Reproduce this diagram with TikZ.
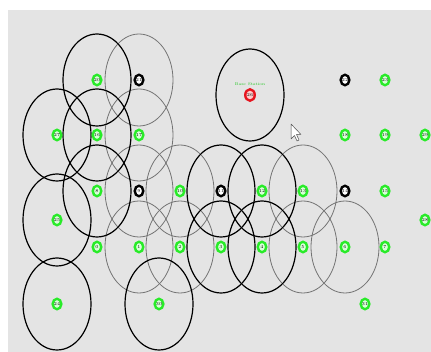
\documentclass[tikz,border=0pt]{standalone}
\usetikzlibrary{shapes.geometric}
\definecolor{bg}{RGB}{228,228,228}
\definecolor{ngreen}{RGB}{40,235,40}
\definecolor{nred}{RGB}{230,20,30}
\begin{document}
\begin{tikzpicture}[x=1pt,y=-1pt,
  rng/.style={draw=black,line width=1.2pt},
  rngg/.style={draw=black!55,line width=0.8pt},
  nodebase/.style={ellipse,line width=2.4pt,minimum width=8.5pt,minimum height=10.5pt,inner sep=0pt,font=\fontsize{4.5}{4.5}\selectfont},
  gnode/.style={nodebase,draw=ngreen,fill=green!15!white},
  bnode/.style={nodebase,draw=black,fill=white},
  rnode/.style={nodebase,draw=nred,fill=red!20!white,minimum width=9.5pt,minimum height=11.5pt},
  bstext/.style={font=\fontsize{4}{4}\selectfont,text=ngreen!85!black,inner sep=0pt},
  cursorstyle/.style={fill=white,draw=black!70,line width=0.5pt,line join=round}]
\fill[white] (0,0) rectangle (431,352);
\fill[bg] (8,10) rectangle (431,352);
\useasboundingbox (0,0) rectangle (431,352);
% positions
\foreach \n/\x/\y in {0/97/247,1/139/247,2/180/247,3/221/247,4/262/247,5/303/247,6/345/247,7/385/247,
  8/97/191,9/139/191,10/180/191,11/221/191,12/262/191,13/303/191,14/345/191,15/385/191,
  16/97/135,17/139/135,18/345/135,19/385/135,20/97/80,21/139/80,22/345/80,23/385/80,
  24/57/304,25/57/220,27/57/135,28/425/220,29/425/135,30/159/304,31/365/304,26/250/95}
  \coordinate (c\n) at (\x,\y);
% coverage ranges
\foreach \n in {21,17,9,10,13,1,2,5,6}
  \draw[rngg] (c\n) ellipse [x radius=34, y radius=46];
\foreach \n in {20,27,16,8,11,12,3,4,25,24,30,26}
  \draw[rng] (c\n) ellipse [x radius=34, y radius=46];
% nodes
\foreach \n in {0,1,2,3,4,5,6,7,8,10,12,13,15,16,17,18,19,20,23,24,25,27,28,29,30,31}
  \node[gnode] (n\n) at (c\n) {\n};
\foreach \n in {9,11,14,21,22}
  \node[bnode] (n\n) at (c\n) {\n};
\node[rnode] (n26) at (c26) {26};
\node[bstext] (bslabel) at (250,84) {Base Station};
% mouse pointer
\draw[cursorstyle] (291,124) -- (291,139) -- (294.5,135.5) -- (297,141) -- (299,140) -- (296.5,134.5) -- (301,134.5) -- cycle;
\end{tikzpicture}
\end{document}
